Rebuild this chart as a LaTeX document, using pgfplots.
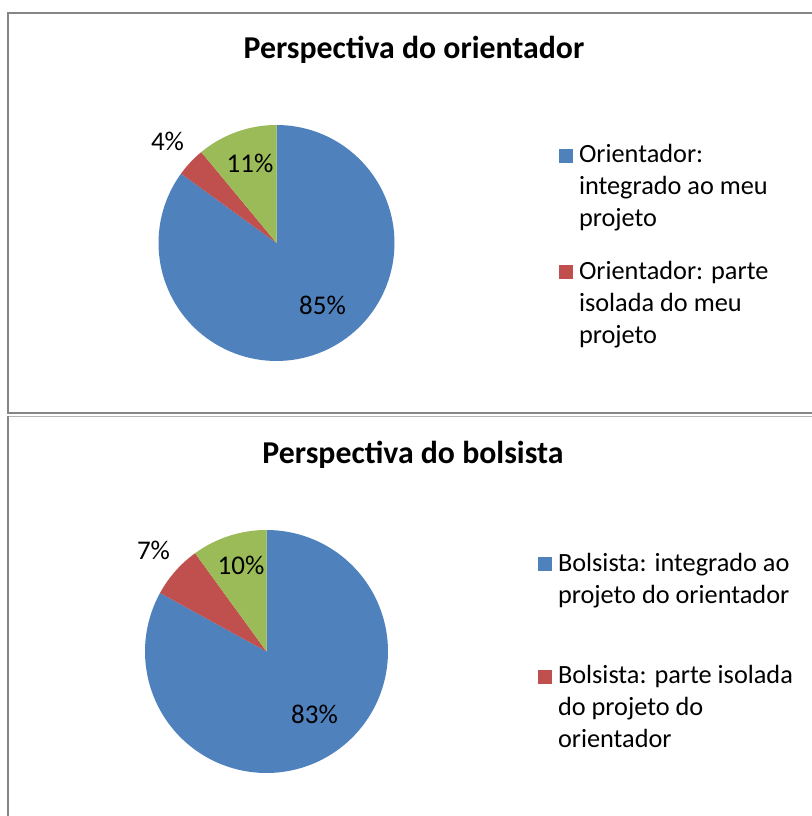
\documentclass[border=0pt]{standalone}
\usepackage{pgfplots}
\pgfplotsset{compat=1.18}
\usepackage{pgfplotstable}
\usepackage{fontspec}
\setmainfont{Carlito}
\definecolor{sblue}{HTML}{4F81BD}
\definecolor{sred}{HTML}{C0504D}
\definecolor{sgreen}{HTML}{9BBB59}
\definecolor{framedark}{HTML}{868686}
\definecolor{framelight}{HTML}{B4B4B4}

\pgfplotstableread{
value
85
4
11
}\orientdata
\pgfplotstableread{
value
83
7
10
}\bolsdata

% slice angles, clockwise from 12 o'clock
\pgfplotstablegetelem{0}{value}\of\orientdata \let\oa\pgfplotsretval
\pgfplotstablegetelem{1}{value}\of\orientdata \let\ob\pgfplotsretval
\pgfplotstablegetelem{2}{value}\of\orientdata \let\oc\pgfplotsretval
\pgfmathsetmacro{\oA}{90}
\pgfmathsetmacro{\oB}{90-3.6*\oa}
\pgfmathsetmacro{\oC}{\oB-3.6*\ob}
\pgfmathsetmacro{\oD}{\oC-3.6*\oc}
\pgfplotstablegetelem{0}{value}\of\bolsdata \let\ba\pgfplotsretval
\pgfplotstablegetelem{1}{value}\of\bolsdata \let\bb\pgfplotsretval
\pgfplotstablegetelem{2}{value}\of\bolsdata \let\bc\pgfplotsretval
\pgfmathsetmacro{\bA}{90}
\pgfmathsetmacro{\bB}{90-3.6*\ba}
\pgfmathsetmacro{\bC}{\bB-3.6*\bb}
\pgfmathsetmacro{\bD}{\bC-3.6*\bc}

\newcommand{\lfont}{\fontsize{26.3}{32}\selectfont}
\newcommand{\pfont}{\fontsize{27}{32}\selectfont}
\newcommand{\tfont}{\fontsize{31.8}{38}\selectfont\bfseries}

\pgfplotsset{
  panel/.style={
    at={(0,0)}, anchor=south west, scale only axis,
    width=811pt, height=816pt,
    xmin=0, xmax=811, ymin=0, ymax=816,
    hide axis, clip=false,
    legend image code/.code={\fill[##1] (0pt,0pt) rectangle (14pt,14pt);},
    legend style={draw=none, fill=none, inner sep=0pt, outer sep=0pt,
      column sep=6pt, font=\lfont,
      nodes={inner sep=0pt, outer sep=0pt, anchor=base west}},
  },
}
\newcommand{\entry}[1]{\smash{\begin{tabular}[t]{@{}l@{}}#1\end{tabular}}}

\begin{document}%
\begin{tikzpicture}[x=1pt,y=1pt]
% panel frames
\draw[framedark, line width=1.7pt] (8,803) rectangle (830,403);
\draw[framelight, line width=1.5pt] (830,399.5) -- (8,399.5);
\draw[framedark, line width=1.7pt] (8,399.5) -- (8,-10);

% ---------- top panel ----------
\begin{axis}[panel,
  legend style={at={(0.68927,0.81740)}, anchor=north west, row sep=101pt}]
\addplot[fill=sblue, draw=none, domain=\oB:\oA, samples=120, forget plot]
  ({276.5+118*cos(x)}, {573+118*sin(x)}) -- (axis cs:276.5,573) -- cycle;
\addplot[fill=sred, draw=none, domain=\oC:\oB, samples=20, forget plot]
  ({276.5+118*cos(x)}, {573+118*sin(x)}) -- (axis cs:276.5,573) -- cycle;
\addplot[fill=sgreen, draw=none, domain=\oD:\oC, samples=30, forget plot]
  ({276.5+118*cos(x)}, {573+118*sin(x)}) -- (axis cs:276.5,573) -- cycle;
\addlegendimage{fill=sblue, draw=none}
\addlegendentry{\entry{Orientador:\\integrado ao meu\\projeto}}
\addlegendimage{fill=sred, draw=none}
\addlegendentry{\entry{Orientador: parte\\isolada do meu\\projeto}}
\node[anchor=base, font=\tfont] at (axis cs:414,757) {Perspectiva do orientador};
\node[anchor=base, font=\pfont] at (axis cs:322.5,501) {85\%};
\node[anchor=base, font=\pfont] at (axis cs:250,643) {11\%};
\node[anchor=base, font=\pfont] at (axis cs:167.5,665) {4\%};
\end{axis}

% ---------- bottom panel ----------
\begin{axis}[panel,
  legend style={at={(0.66338,0.31740)}, anchor=north west, row sep=97pt}]
\addplot[fill=sblue, draw=none, domain=\bB:\bA, samples=120, forget plot]
  ({266.5+121.5*cos(x)}, {164.5+121.5*sin(x)}) -- (axis cs:266.5,164.5) -- cycle;
\addplot[fill=sred, draw=none, domain=\bC:\bB, samples=20, forget plot]
  ({266.5+121.5*cos(x)}, {164.5+121.5*sin(x)}) -- (axis cs:266.5,164.5) -- cycle;
\addplot[fill=sgreen, draw=none, domain=\bD:\bC, samples=30, forget plot]
  ({266.5+121.5*cos(x)}, {164.5+121.5*sin(x)}) -- (axis cs:266.5,164.5) -- cycle;
\addlegendimage{fill=sblue, draw=none}
\addlegendentry{\entry{Bolsista: integrado ao\\projeto do orientador}}
\addlegendimage{fill=sred, draw=none}
\addlegendentry{\entry{Bolsista: parte isolada\\do projeto do\\orientador}}
\node[anchor=base, font=\tfont] at (axis cs:413,352) {Perspectiva do bolsista};
\node[anchor=base, font=\pfont] at (axis cs:314.5,92) {83\%};
\node[anchor=base, font=\pfont] at (axis cs:241,241) {10\%};
\node[anchor=base, font=\pfont] at (axis cs:153.5,256) {7\%};
\end{axis}
\pgfresetboundingbox
\path[use as bounding box] (0,0) rectangle (811,816);
\end{tikzpicture}%
\end{document}
